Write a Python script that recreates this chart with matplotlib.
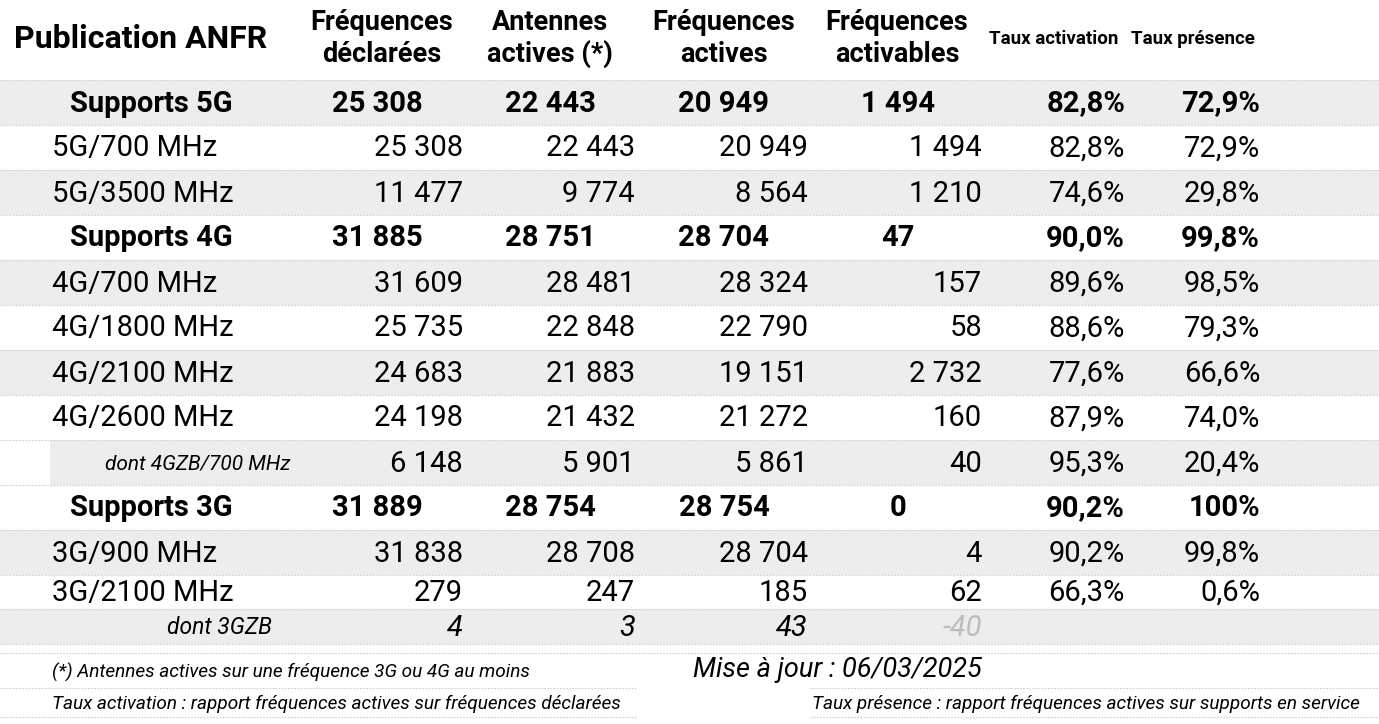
import matplotlib
matplotlib.use("Agg")
import matplotlib.pyplot as plt

plt.rcParams['font.family'] = ['Roboto', 'DejaVu Sans']

# ---------------- data ----------------
title = "Publication ANFR"
col_headers = [["Fréquences", "déclarées"], ["Antennes", "actives (*)"],
               ["Fréquences", "actives"], ["Fréquences", "activables"],
               ["Taux activation"], ["Taux présence"]]
labels = ["Supports 5G", "5G/700 MHz", "5G/3500 MHz", "Supports 4G",
          "4G/700 MHz", "4G/1800 MHz", "4G/2100 MHz", "4G/2600 MHz",
          "dont 4GZB/700 MHz", "Supports 3G", "3G/900 MHz", "3G/2100 MHz",
          "dont 3GZB"]
kinds = ["group", "item", "item", "group", "item", "item", "item", "item",
         "sub", "group", "item", "item", "sub3"]
freq_declarees = [25308, 25308, 11477, 31885, 31609, 25735, 24683, 24198, 6148,
                  31889, 31838, 279, 4]
antennes_actives = [22443, 22443, 9774, 28751, 28481, 22848, 21883, 21432, 5901,
                    28754, 28708, 247, 3]
freq_actives = [20949, 20949, 8564, 28704, 28324, 22790, 19151, 21272, 5861,
                28754, 28704, 185, 43]
freq_activables = [1494, 1494, 1210, 47, 157, 58, 2732, 160, 40,
                   0, 4, 62, -40]
taux_activation = [82.8, 82.8, 74.6, 90.0, 89.6, 88.6, 77.6, 87.9, 95.3,
                   90.2, 90.2, 66.3, None]
taux_presence = [72.9, 72.9, 29.8, 99.8, 98.5, 79.3, 66.6, 74.0, 20.4,
                 100.0, 99.8, 0.6, None]
footnote_left1 = "(*) Antennes actives sur une fréquence 3G ou 4G au moins"
footnote_left2 = "Taux activation : rapport fréquences actives sur fréquences déclarées"
footnote_right2 = "Taux présence : rapport fréquences actives sur supports en service"
update_text = "Mise à jour : 06/03/2025"

# ---------------- layout ----------------
W, H = 1379, 724
fig = plt.figure(figsize=(W / 100, H / 100), dpi=100)
ax = fig.add_axes([0, 0, 1, 1])
ax.set_xlim(0, W)
ax.set_ylim(H, 0)
ax.axis('off')

GRAY = '#ededed'
LINE = '#d4d4d4'

row_tops = [80 + 45 * i for i in range(12)] + [609]
row_bots = row_tops[1:] + [644]

num_right = [463, 635, 808, 982]
num_center = [377, 550, 724, 898]
pct_right = [1125, 1260]
head_center = [382, 550, 724, 897, 1054, 1193]

FS = 21


def fmt_int(v):
    return f"{v:,}".replace(",", " ")


def fmt_pct(v):
    if v is None:
        return ""
    if abs(v - round(v)) < 1e-9 and v >= 100:
        return f"{int(round(v))}%"
    return f"{v:.1f}%".replace(".", ",")


# header
ax.text(14, 39, title, ha='left', va='center', fontsize=23, fontweight='bold')
for i, hdr in enumerate(col_headers):
    if len(hdr) == 2:
        ax.text(head_center[i], 22, hdr[0], ha='center', va='center',
                fontsize=19.5, fontweight='bold')
        ax.text(head_center[i], 54, hdr[1], ha='center', va='center',
                fontsize=19.5, fontweight='bold')
    else:
        ax.text(head_center[i], 39, hdr[0], ha='center', va='center',
                fontsize=13.5, fontweight='bold')

# rows
for r, lab in enumerate(labels):
    top, bot = row_tops[r], row_bots[r]
    yc = (top + bot) / 2 + 1
    kind = kinds[r]
    if r % 2 == 0:
        x0 = 50 if kind == "sub" else 0
        ax.fill_between([x0, W], top, bot, color=GRAY, lw=0, zorder=0)
    nums = [freq_declarees[r], antennes_actives[r], freq_actives[r], freq_activables[r]]
    pcts = [taux_activation[r], taux_presence[r]]
    if kind == "group":
        ax.text(151, yc, lab, ha='center', va='center', fontsize=FS, fontweight='bold')
        for c, v in enumerate(nums):
            ax.text(num_center[c], yc, fmt_int(v), ha='center', va='center',
                    fontsize=FS, fontweight='bold')
        for c, v in enumerate(pcts):
            ax.text(pct_right[c], yc, fmt_pct(v), ha='right', va='center',
                    fontsize=FS, fontweight='bold')
    elif kind == "item":
        ax.text(52, yc, lab, ha='left', va='center', fontsize=FS)
        for c, v in enumerate(nums):
            ax.text(num_right[c], yc, fmt_int(v), ha='right', va='center', fontsize=FS)
        for c, v in enumerate(pcts):
            ax.text(pct_right[c], yc, fmt_pct(v), ha='right', va='center', fontsize=FS)
    else:
        if kind == "sub":
            ax.text(290, yc, lab, ha='right', va='center', fontsize=15, style='italic')
        else:
            ax.text(272, yc, lab, ha='right', va='center', fontsize=16.5, style='italic')
        for c, v in enumerate(nums):
            col = '#bdbdbd' if v < 0 else 'black'
            st = 'italic' if kind == "sub3" else 'normal'
            ax.text(num_right[c], yc, fmt_int(v), ha='right', va='center',
                    fontsize=FS, style=st, color=col)
        for c, v in enumerate(pcts):
            ax.text(pct_right[c], yc, fmt_pct(v), ha='right', va='center', fontsize=FS)

# separator lines
for y in [80] + row_bots + [653]:
    ax.plot([0, W], [y, y], color=LINE, lw=0.9, ls=(0, (1.5, 1)), zorder=1)
for y in [688, 717]:
    ax.plot([0, 637], [y, y], color=LINE, lw=0.9, ls=(0, (1.5, 1)), zorder=1)
    ax.plot([810, W], [y, y], color=LINE, lw=0.9, ls=(0, (1.5, 1)), zorder=1)

# footer
ax.text(52, 672, footnote_left1, ha='left', va='center', fontsize=13.7, style='italic')
ax.text(982, 670, update_text, ha='right', va='center', fontsize=19.5, style='italic')
ax.text(52, 704, footnote_left2, ha='left', va='center', fontsize=13.7, style='italic')
ax.text(1360, 704, footnote_right2, ha='right', va='center', fontsize=13.7, style='italic')

fig.savefig("out.png", dpi=100)
